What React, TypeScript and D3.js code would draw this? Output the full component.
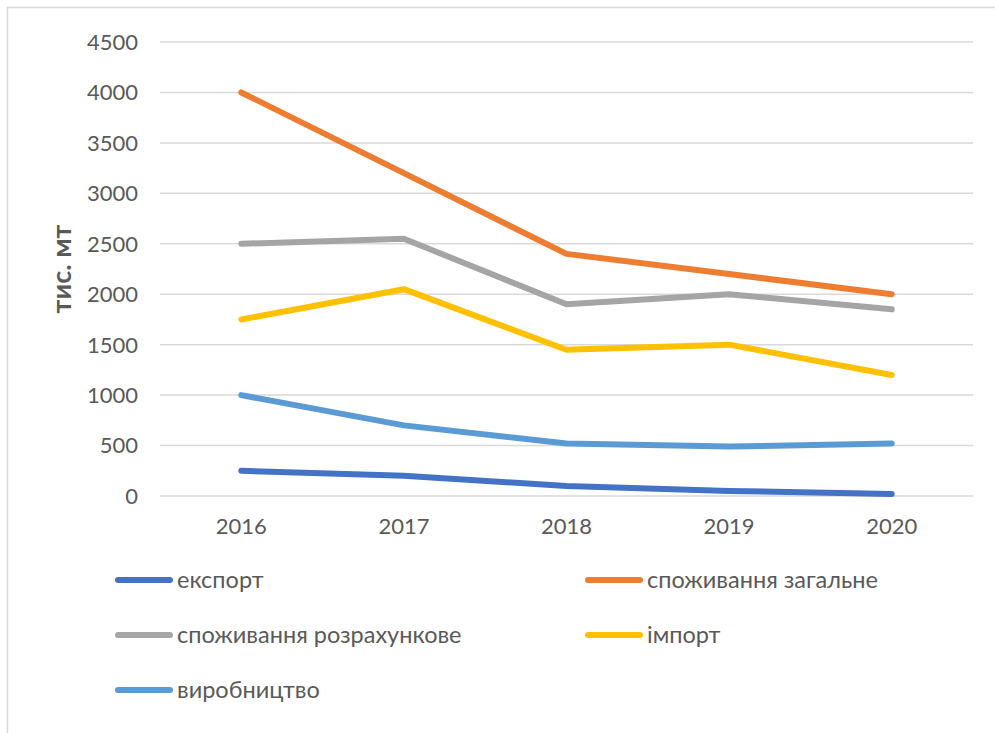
import { useEffect, useRef } from 'react';
import * as d3 from 'd3';

const years = ['2016', '2017', '2018', '2019', '2020'];
const seriesNames = ['експорт', 'споживання загальне', 'споживання розрахункове', 'імпорт', 'виробництво'];
const seriesColors = ['#4472c4', '#ed7d31', '#a5a5a5', '#ffc000', '#5b9bd5'];
const exportVals = [250, 200, 100, 50, 20];
const totalConsumption = [4000, 3200, 2400, 2200, 2000];
const calcConsumption = [2500, 2550, 1900, 2000, 1850];
const importVals = [1750, 2050, 1450, 1500, 1200];
const production = [1000, 700, 520, 490, 520];
const yTicks = [0, 500, 1000, 1500, 2000, 2500, 3000, 3500, 4000, 4500];
const yTitle = 'тис. мт';

const App = () => {
  const ref = useRef<SVGSVGElement>(null);

  useEffect(() => {
    const width = 995;
    const height = 733;
    const font = 'Lato, "Open Sans", sans-serif';
    const textColor = '#595959';

    const svg = d3.select(ref.current);
    svg.selectAll('*').remove();

    svg.append('rect').attr('width', width).attr('height', height).attr('fill', 'white');
    // chart frame (runs off right and bottom edges)
    svg
      .append('path')
      .attr('d', `M7.5,${height + 2} V7.5 H${width + 2}`)
      .attr('fill', 'none')
      .attr('stroke', '#d9d9d9')
      .attr('stroke-width', 1.5);

    const x = d3.scaleBand().domain(years).range([160, 973]);
    const y = d3.scaleLinear().domain([0, 4500]).range([496, 42]);

    // gridlines
    svg
      .append('g')
      .selectAll('line')
      .data(yTicks)
      .enter()
      .append('line')
      .attr('x1', 160)
      .attr('x2', 973)
      .attr('y1', (d) => y(d))
      .attr('y2', (d) => y(d))
      .attr('stroke', '#d9d9d9')
      .attr('stroke-width', 1.5);

    // y tick labels
    svg
      .append('g')
      .selectAll('text')
      .data(yTicks)
      .enter()
      .append('text')
      .attr('x', 138)
      .attr('y', (d) => y(d))
      .attr('dy', '0.36em')
      .attr('text-anchor', 'end')
      .attr('font-family', font)
      .attr('font-size', 22)
      .attr('fill', textColor)
      .text((d) => d);

    // x tick labels
    svg
      .append('g')
      .selectAll('text')
      .data(years)
      .enter()
      .append('text')
      .attr('x', (d) => x(d)! + x.bandwidth() / 2)
      .attr('y', 534)
      .attr('text-anchor', 'middle')
      .attr('font-family', font)
      .attr('font-size', 22)
      .attr('fill', textColor)
      .text((d) => d);

    // y title
    svg
      .append('text')
      .attr('transform', 'translate(71,269) rotate(-90)')
      .attr('text-anchor', 'middle')
      .attr('font-family', font)
      .attr('font-size', 27)
      .attr('font-weight', 'bold')
      .attr('fill', textColor)
      .text(yTitle);

    const allSeries = [exportVals, totalConsumption, calcConsumption, importVals, production];
    const line = d3
      .line<number>()
      .x((_, i) => x(years[i])! + x.bandwidth() / 2)
      .y((d) => y(d));

    // draw in Excel order (first series at the bottom)
    allSeries.forEach((vals, i) => {
      svg
        .append('path')
        .datum(vals)
        .attr('d', line)
        .attr('fill', 'none')
        .attr('stroke', seriesColors[i])
        .attr('stroke-width', 6)
        .attr('stroke-linecap', 'round')
        .attr('stroke-linejoin', 'round');
    });

    // legend
    const legendPos = [
      [115, 580],
      [585, 580],
      [115, 635],
      [585, 635],
      [115, 690],
    ];
    const legend = svg.append('g');
    seriesNames.forEach((name, i) => {
      const [lx, ly] = legendPos[i];
      legend
        .append('line')
        .attr('x1', lx + 3)
        .attr('x2', lx + 55)
        .attr('y1', ly)
        .attr('y2', ly)
        .attr('stroke', seriesColors[i])
        .attr('stroke-width', 6)
        .attr('stroke-linecap', 'round');
      legend
        .append('text')
        .attr('x', lx + 62)
        .attr('y', ly)
        .attr('dy', '0.36em')
        .attr('font-family', font)
        .attr('font-size', 23.5)
        .attr('fill', textColor)
        .text(name);
    });
  }, []);

  return (
    <svg
      ref={ref}
      width={995}
      height={733}
      style={{ position: 'absolute', left: 0, top: 0, display: 'block' }}
    />
  );
};

export default App;
